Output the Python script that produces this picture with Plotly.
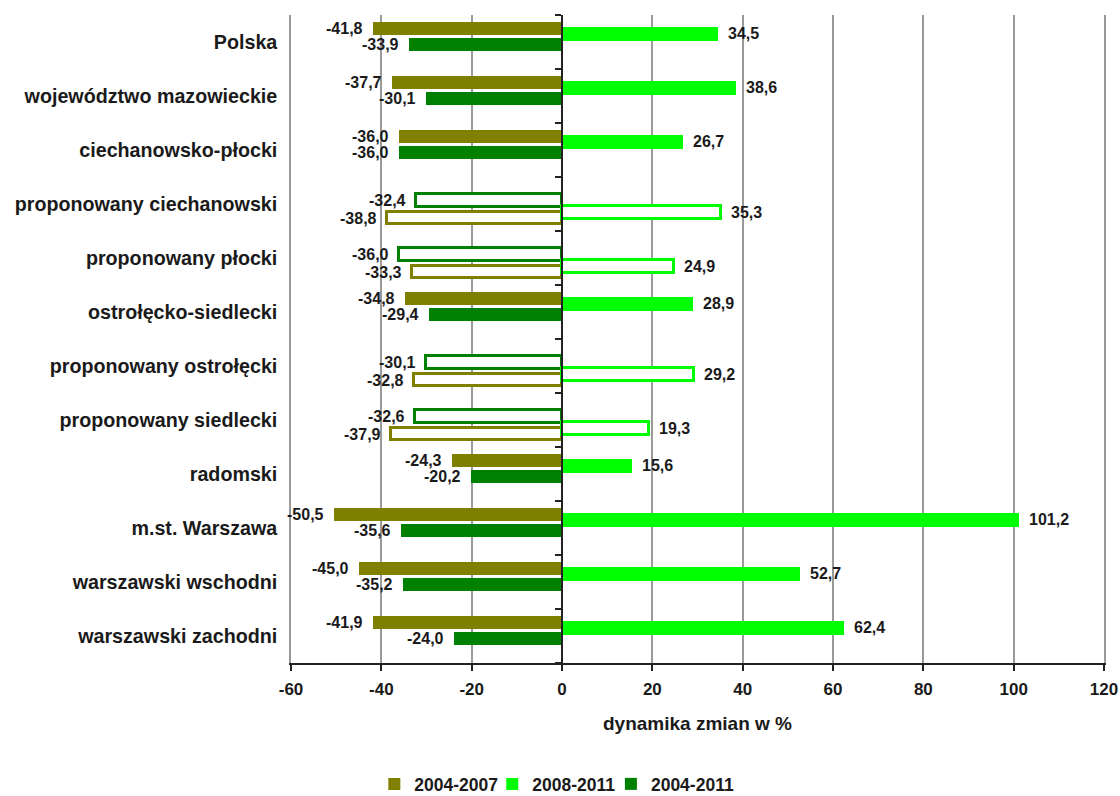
import plotly.graph_objects as go

# ---------------- data ----------------
categories = [
    "Polska",
    "województwo mazowieckie",
    "ciechanowsko-płocki",
    "proponowany ciechanowski",
    "proponowany płocki",
    "ostrołęcko-siedlecki",
    "proponowany ostrołęcki",
    "proponowany siedlecki",
    "radomski",
    "m.st. Warszawa",
    "warszawski wschodni",
    "warszawski zachodni",
]
# proposed regions are drawn as hollow (outlined) bars
hollow = [False, False, False, True, True, False, True, True, False, False, False, False]

v_2004_2007 = [-41.8, -37.7, -36.0, -38.8, -33.3, -34.8, -32.8, -37.9, -24.3, -50.5, -45.0, -41.9]
v_2008_2011 = [34.5, 38.6, 26.7, 35.3, 24.9, 28.9, 29.2, 19.3, 15.6, 101.2, 52.7, 62.4]
v_2004_2011 = [-33.9, -30.1, -36.0, -32.4, -36.0, -29.4, -30.1, -32.6, -20.2, -35.6, -35.2, -24.0]

series_names = ["2004-2007", "2008-2011", "2004-2011"]
series_colors = ["#808000", "#00FF00", "#008000"]

x_tick_vals = [-60, -40, -20, 0, 20, 40, 60, 80, 100, 120]
x_tick_text = ["-60", "-40", "-20", "0", "20", "40", "60", "80", "100", "120"]
x_title = "dynamika zmian w %"

# ---------------- layout helpers ----------------
FONT = "Liberation Sans, Arial, sans-serif"
TXT = "#1a1a1a"
n = len(categories)
# vertical offsets inside each category band (solid rows / hollow rows)
off_solid = [-0.25, -0.15, 0.045]
off_hollow = [0.26, 0.16, -0.065]
w_solid = 0.25
w_hollow = 0.235

series_values = [v_2004_2007, v_2008_2011, v_2004_2011]
legend_ids = ["legend", "legend2", "legend3"]
legend_x = [0.1025, 0.2475, 0.3935]


def fmt(v):
    return f"{v:.1f}".replace(".", ",")


fig = go.Figure()
annotations = []
for s, (name, color, vals) in enumerate(zip(series_names, series_colors, series_values)):
    axis = "y2" if s == 1 else "y"
    pos = [i + (off_hollow[s] if hollow[i] else off_solid[s]) for i in range(n)]
    solid_idx = [i for i in range(n) if not hollow[i]]
    hollow_idx = [i for i in range(n) if hollow[i]]
    fig.add_trace(go.Bar(
        x=[vals[i] for i in solid_idx],
        y=[pos[i] for i in solid_idx],
        base=0,
        orientation="h",
        width=w_solid,
        marker=dict(color=color, line=dict(width=0)),
        name=name,
        legendgroup=name,
        legend=legend_ids[s],
        yaxis=axis,
        hoverinfo="skip",
    ))
    fig.add_trace(go.Bar(
        x=[vals[i] for i in hollow_idx],
        y=[pos[i] for i in hollow_idx],
        base=0,
        orientation="h",
        width=w_hollow,
        marker=dict(color="white", line=dict(color=color, width=3)),
        name=name,
        legendgroup=name,
        legend=legend_ids[s],
        showlegend=False,
        yaxis=axis,
        hoverinfo="skip",
    ))
    for i in range(n):
        v = vals[i]
        annotations.append(dict(
            x=v, y=pos[i], xref="x", yref="y",
            text=fmt(v), showarrow=False,
            xanchor="right" if v < 0 else "left",
            yanchor="middle",
            xshift=-8 if v < 0 else 8,
            font=dict(family=FONT, size=16, color=TXT, weight="bold"),
        ))

y_range = [n - 0.5, -0.5]
boundaries = [i - 0.5 for i in range(n + 1)]


def legend_cfg(x):
    return dict(
        orientation="h",
        x=x,
        xanchor="left",
        xref="paper",
        yref="container",
        y=1 - 784 / 796,
        yanchor="middle",
        font=dict(family=FONT, size=17.5, weight="bold", color=TXT),
        bgcolor="rgba(0,0,0,0)",
    )


fig.update_layout(
    width=1120,
    height=796,
    margin=dict(l=291, r=16, t=15, b=133, autoexpand=False),
    paper_bgcolor="white",
    plot_bgcolor="white",
    barmode="overlay",
    bargap=0,
    font=dict(family=FONT, color=TXT),
    xaxis=dict(
        range=[-60, 120],
        tickvals=x_tick_vals,
        ticktext=x_tick_text,
        showgrid=True,
        gridcolor="#9a9a9a",
        gridwidth=1.5,
        zeroline=False,
        showline=True,
        linecolor="#222222",
        linewidth=1.5,
        ticks="outside",
        ticklen=6,
        tickcolor="#222222",
        tickwidth=1.5,
        ticklabelstandoff=4,
        tickfont=dict(family=FONT, size=17, weight="bold", color=TXT),
        title=dict(text=x_title, standoff=19,
                   font=dict(family=FONT, size=19, weight="bold", color=TXT)),
        fixedrange=True,
    ),
    yaxis=dict(
        range=y_range,
        tickvals=list(range(n)),
        ticktext=categories,
        showgrid=False,
        zeroline=False,
        showline=True,
        mirror=True,
        linecolor="#9a9a9a",
        linewidth=1.5,
        ticks="",
        ticklabelstandoff=8,
        tickfont=dict(family=FONT, size=19.7, weight="bold", color=TXT),
        fixedrange=True,
    ),
    yaxis2=dict(
        range=y_range,
        overlaying="y",
        anchor="free",
        position=(0 - (-60)) / (120 - (-60)),
        side="left",
        tickvals=boundaries,
        showticklabels=False,
        ticks="outside",
        ticklen=6,
        tickwidth=1.5,
        tickcolor="#222222",
        showgrid=False,
        zeroline=False,
        showline=True,
        linecolor="#222222",
        linewidth=1.5,
        fixedrange=True,
    ),
    legend=legend_cfg(legend_x[0]),
    legend2=legend_cfg(legend_x[1]),
    legend3=legend_cfg(legend_x[2]),
    annotations=annotations,
    showlegend=True,
)

fig.write_html(
    "out.html",
    config={"displayModeBar": False},
    post_script="document.body.style.margin='0';",
)
